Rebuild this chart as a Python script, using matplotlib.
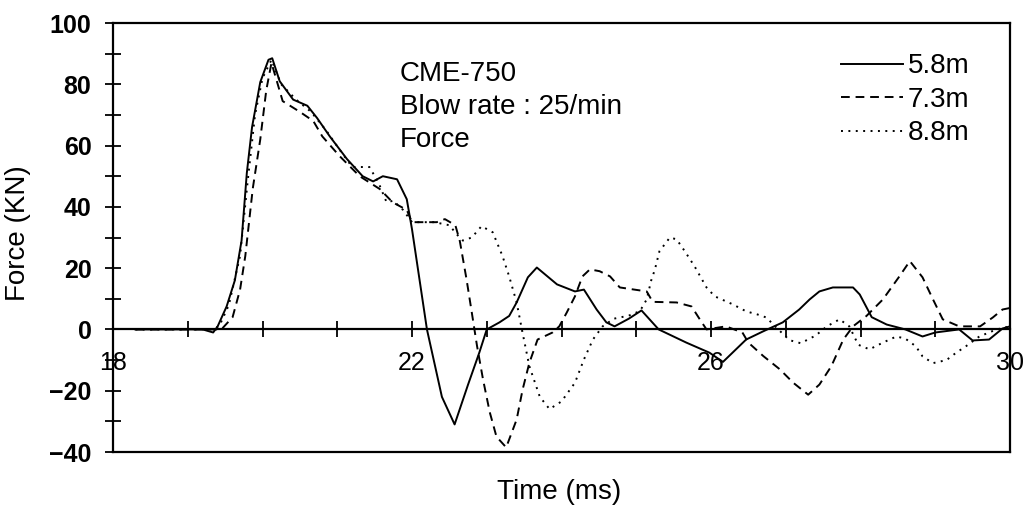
import matplotlib
matplotlib.use("Agg")
import matplotlib.pyplot as plt

# force records at three gauge depths, time in ms, force in kN
t_58 = [18.3, 19.0, 19.2, 19.34, 19.4, 19.52, 19.63, 19.72, 19.79, 19.86, 19.97, 20.08, 20.13,
        20.23, 20.41, 20.6, 20.73, 20.9, 21.13, 21.34, 21.48, 21.61, 21.8, 21.93, 22.0, 22.2,
        22.4, 22.57, 22.75, 22.9, 23.0, 23.17, 23.3, 23.4, 23.55, 23.67, 23.94, 24.18, 24.3,
        24.47, 24.6, 24.71, 24.9, 25.07, 25.3, 25.67, 25.98, 26.16, 26.47, 26.7, 26.96, 27.18,
        27.32, 27.45, 27.63, 27.9, 27.99, 28.15, 28.35, 28.6, 28.83, 29.0, 29.32, 29.5, 29.72,
        29.9, 30.0]
f_58 = [0, 0, 0, -1, 1, 7.5, 16, 29, 51, 66, 80.7, 88, 88.5,
        81, 75, 73, 69, 63, 55.6, 50, 48.3, 50, 49, 42.5, 32.7, 0,
        -22, -31, -18, -7.6, 0, 2.3, 4.4, 8.8, 17, 20.2, 14.7, 12.4, 13,
        6.5, 2.3, 1, 3.5, 6.2, 0, -4.3, -7.6, -10.6, -3.3, -0.6, 2.3, 6.5,
        9.8, 12.4, 13.7, 13.7, 11.4, 4, 1.6, 0, -2.3, -1, 0, -3.6, -3.3,
        0.3, 1]

t_73 = [18.3, 19.3, 19.45, 19.6, 19.7, 19.77, 19.87, 19.97, 20.05, 20.12, 20.18, 20.27, 20.5,
        20.68, 20.8, 21.03, 21.3, 21.57, 21.74, 21.93, 22.0, 22.33, 22.44, 22.58, 22.64, 22.73,
        22.8, 22.87, 22.95, 23.04, 23.13, 23.26, 23.4, 23.48, 23.57, 23.68, 23.88, 23.97, 24.07,
        24.18, 24.28, 24.38, 24.51, 24.65, 24.78, 25.14, 25.22, 25.54, 25.74, 25.85, 25.94,
        26.2, 26.42, 26.5, 26.7, 26.92, 27.1, 27.3, 27.45, 27.61, 27.77, 27.9, 28.08, 28.3,
        28.52, 28.66, 28.83, 28.97, 29.1, 29.32, 29.6, 29.77, 29.9, 30.0]
f_73 = [0, 0, 0, 4, 13, 24, 46, 62, 78, 87, 82, 74.5, 71,
        68, 63, 56.6, 50, 45.8, 41.5, 39, 35, 35, 36, 34, 28.8, 16.3,
        5.5, -5.4, -16.3, -27, -35, -38.5, -29.4, -19.6, -10.9, -3.3, -1, 1, 5.5,
        10.8, 17.3, 19.6, 19, 17.3, 13.7, 12.4, 9, 8.8, 7.5, 3.3, 0,
        1, -1, -4.3, -8.7, -13, -17.4, -21.3, -18, -12, -3.3, 1, 4.4, 9.8,
        17.3, 22.3, 17, 9.8, 3.3, 1, 1, 3.9, 6.5, 7]

t_88 = [18.3, 19.3, 19.42, 19.55, 19.7, 19.8, 19.9, 20.0, 20.12, 20.25, 20.45, 20.65, 20.85,
        21.05, 21.2, 21.43, 21.55, 21.66, 21.75, 21.88, 22.0, 22.3, 22.5, 22.6, 22.68, 22.8,
        22.93, 23.08, 23.21, 23.3, 23.4, 23.47, 23.57, 23.71, 23.84, 24.0, 24.18, 24.3, 24.42,
        24.55, 24.7, 24.9, 25.05, 25.14, 25.2, 25.25, 25.31, 25.45, 25.54, 25.65, 25.78, 25.94,
        26.05, 26.29, 26.47, 26.62, 26.74, 26.9, 27.05, 27.2, 27.4, 27.55, 27.72, 27.85, 27.97,
        28.12, 28.3, 28.48, 28.6, 28.74, 28.83, 28.97, 29.15, 29.28, 29.41, 29.59, 29.82, 30.0]
f_88 = [0, 0, 1, 8, 24, 48, 70, 82, 88, 80, 75, 71, 65,
        58, 53, 53, 48, 41.5, 42, 39, 35, 35, 34, 31, 29, 30,
        33.7, 31.7, 24, 17.3, 8.8, 0, -12, -22, -26, -23.5, -17.4, -9.8, -3.3,
        1, 3.5, 4.5, 6, 9.8, 16, 19.6, 25.5, 30, 29.4, 25.5, 20.6, 13.7,
        10.8, 8.2, 5.9, 4.9, 3.9, 0, -3.5, -4.5, -2, 1, 3.3, 1, -5,
        -6.5, -4.3, -2.3, -3, -5.5, -8.8, -11, -10, -7.6, -5.5, -2.3, 0, 1]

labels = ["5.8m", "7.3m", "8.8m"]
x_major = [18, 22, 26, 30]
y_major = [-40, -20, 0, 20, 40, 60, 80, 100]
info_lines = ["CME-750", "Blow rate : 25/min", "Force"]

sans = ["Liberation Sans", "DejaVu Sans"]

fig = plt.figure(figsize=(10.24, 5.05), dpi=100)
ax = fig.add_axes([113 / 1024, 53 / 505, 897 / 1024, 429 / 505])

l1, = ax.plot(t_58, f_58, color="black", lw=1.4, ls="-")
l2, = ax.plot(t_73, f_73, color="black", lw=1.4, ls=(0, (4.5, 3)))
l3, = ax.plot(t_88, f_88, color="black", lw=1.4, ls=(0, (1, 2.8)))

ax.set_xlim(18, 30)
ax.set_ylim(-40, 100)

# x axis runs along zero, the box keeps its frame at -40
ax.spines["bottom"].set_position(("data", 0))
ax.axhline(-40, color="black", lw=1.6, clip_on=False)
for s in ["left", "right", "top", "bottom"]:
    ax.spines[s].set_linewidth(1.6)

ax.set_xticks(x_major)
ax.set_xticks(range(18, 31), minor=True)
ax.set_yticks(y_major)
ax.set_yticks(range(-40, 101, 10), minor=True)
ax.tick_params(axis="x", which="both", direction="inout", length=11, width=1.3, pad=10)
ax.tick_params(axis="y", which="both", direction="inout", length=11, width=1.3, pad=10)
ax.tick_params(axis="x", labelsize=18)
ax.tick_params(axis="y", labelsize=18)
for lab in ax.get_xticklabels():
    lab.set_family(sans)
for lab in ax.get_yticklabels():
    lab.set_family(sans)
    lab.set_fontweight("bold")

ax.set_xlabel("Time (ms)", fontsize=20, family=sans, labelpad=0)
ax.xaxis.set_label_coords(0.497, -0.063)
ax.set_ylabel("Force (KN)", fontsize=20, family=sans, labelpad=0)
ax.yaxis.set_label_coords(-0.091, 0.51)

for i, line in enumerate(info_lines):
    ax.text(0.32, 0.882 - i * 0.077, line, transform=ax.transAxes, fontsize=20,
            family=sans, va="center", ha="left")

leg = ax.legend([l1, l2, l3], labels, loc="upper right", bbox_to_anchor=(0.967, 0.955),
                frameon=False, prop={"family": sans, "size": 20},
                handlelength=2.25, handletextpad=0.15, labelspacing=0.27, borderaxespad=0)

fig.savefig("out.png", dpi=100)
